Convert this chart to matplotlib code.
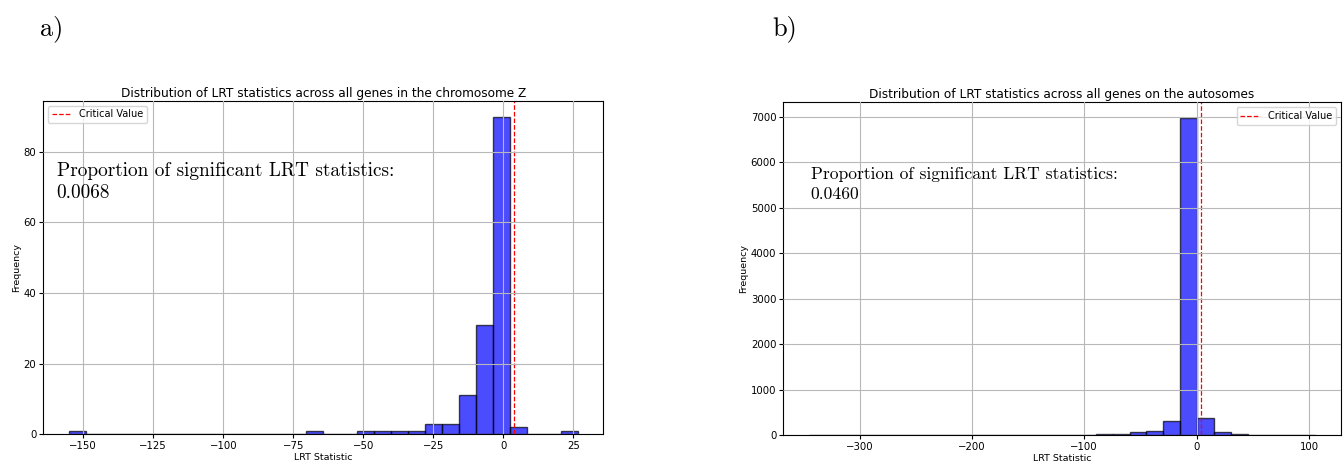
import numpy as np
import matplotlib
matplotlib.use("Agg")
import matplotlib.pyplot as plt

# LRT statistic histograms (30 bins each), counts
critical_value = 3.841

z_min, z_max = -155.2, 26.6
z_counts = [1, 0, 0, 0, 0, 0, 0, 0, 0, 0, 0, 0, 0, 0, 1,
            0, 0, 1, 1, 1, 1, 3, 3, 11, 31, 90, 2, 0, 0, 1]
z_prop = 0.0068

auto_min, auto_max = -345.3, 105.6
auto_counts = [1, 0, 0, 0, 0, 0, 0, 0, 0, 0, 0, 0, 0, 0, 0,
               5, 10, 18, 30, 66, 103, 325, 6970, 389, 82, 18, 6, 2, 1, 1]
auto_prop = 0.0460

titles = ["Distribution of LRT statistics across all genes in the chromosome Z",
          "Distribution of LRT statistics across all genes on the autosomes"]

fig = plt.figure(figsize=(13.44, 4.66), dpi=100)
ax1 = fig.add_axes([0.0322, 0.068, 0.4167, 0.7159])
ax2 = fig.add_axes([0.5828, 0.0659, 0.4147, 0.7146])

panels = [
    (ax1, z_min, z_max, z_counts, z_prop, titles[0], "upper left", 13.9, 0.024, 0.755, 1.3),
    (ax2, auto_min, auto_max, auto_counts, auto_prop, titles[1], "upper right", 12.6, 0.049, 0.755, 1.38),
]

for ax, lo, hi, counts, prop, title, loc, tsize, tx, ty, ls in panels:
    edges = np.linspace(lo, hi, len(counts) + 1)
    ax.hist(edges[:-1], bins=edges, weights=counts, color='blue',
            edgecolor='black', alpha=0.7)
    ax.axvline(critical_value, color='red', linestyle='--', linewidth=0.9,
               label='Critical Value')
    ax.set_title(title, fontsize=8.7, pad=3)
    ax.set_xlabel('LRT Statistic', fontsize=6.8, labelpad=1)
    ax.set_ylabel('Frequency', fontsize=6.8, labelpad=2)
    ax.tick_params(labelsize=7.3, length=3, pad=2)
    ax.grid(True, color='#b8b8b8')
    ax.set_axisbelow(False)
    ax.legend(loc=loc, fontsize=7, handlelength=2, borderpad=0.4)
    ax.text(tx, ty, "Proportion of significant LRT statistics:\n%.4f" % prop,
            transform=ax.transAxes, family='cmr10', fontsize=tsize,
            va='center', linespacing=ls)

fig.text(0.030, 0.925, "a)", family='cmr10', fontsize=19)
fig.text(0.575, 0.925, "b)", family='cmr10', fontsize=19)

fig.savefig("out.png", dpi=100)
